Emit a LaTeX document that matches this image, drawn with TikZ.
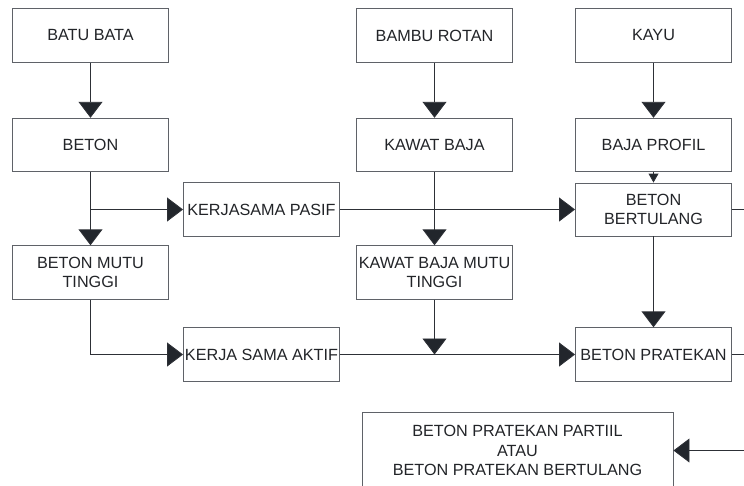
\documentclass[tikz,border=0pt]{standalone}
\usepackage{fontspec}
\setmainfont{Liberation Sans}
\usetikzlibrary{arrows.meta,positioning,calc}
\definecolor{boxline}{RGB}{95,98,104}
\definecolor{wire}{RGB}{45,48,54}
\definecolor{tipc}{RGB}{34,38,44}
\definecolor{txt}{RGB}{34,36,40}

\begin{document}
\begin{tikzpicture}[x=1pt,y=-1pt,
  every node/.style={font=\fontsize{16.2}{19.5}\selectfont,text=txt},
  kotak/.style={draw=boxline,line width=0.9pt,minimum width=156pt,minimum height=53.5pt,inner sep=0pt,align=center},
  lebar/.style={kotak,minimum width=311pt,minimum height=76pt},
  arr/.style={wire,line width=0.9pt,-{Triangle[length=16pt,width=24pt,fill=tipc]}},
  arrk/.style={wire,line width=0.9pt,-{Triangle[length=9pt,width=10pt,fill=tipc]}},
  ln/.style={wire,line width=0.9pt}]
  \useasboundingbox (0,0) rectangle (744,485);
  \clip (0,0) rectangle (744,485);

  % kolom kiri
  \node[kotak] (bata)   at (90.5,35.5)  {BATU BATA};
  \node[kotak] (beton)  at (90.5,145)   {BETON};
  \node[kotak] (bmt)    at (90.5,272.5) {BETON MUTU\\TINGGI};
  % kolom tengah
  \node[kotak] (pasif)  at (261.5,209.5) {KERJASAMA PASIF};
  \node[kotak] (aktif)  at (261.5,354.5) {KERJA SAMA AKTIF};
  \node[kotak] (bambu)  at (434.5,35.5)  {BAMBU ROTAN};
  \node[kotak] (kawat)  at (434.5,145)   {KAWAT BAJA};
  \node[kotak] (kbmt)   at (434.5,272.5) {KAWAT BAJA MUTU\\TINGGI};
  % kolom kanan
  \node[kotak] (kayu)      at (653.5,35.5)  {KAYU};
  \node[kotak] (profil)    at (653.5,145)   {BAJA PROFIL};
  \node[kotak,minimum height=53pt] (bertulang) at (653.5,209.5) {BETON\\BERTULANG};
  \node[kotak] (pratekan)  at (653.5,354.5) {BETON PRATEKAN};
  \node[lebar] (partiil)   at (517.5,450.5) {BETON PRATEKAN PARTIIL\\ATAU\\BETON PRATEKAN BERTULANG};

  \coordinate (luar) at (770,300);

  \draw[arr] (bata) -- (beton);
  \draw[arr] (beton) -- (bmt);
  \draw[arr] (beton.south |- pasif.west) -- (pasif.west);
  \draw[arr] (pasif.east) -- (bertulang.west);
  \draw[arr] (bmt.south) |- (aktif.west);
  \draw[arr] (aktif.east) -- (pratekan.west);

  \draw[arr] (bambu) -- (kawat);
  \draw[arr] (kawat) -- (kbmt);
  \draw[arr] (kbmt.south) -- (kbmt.south |- aktif.east);

  \draw[arr] (kayu) -- (profil);
  \draw[arrk] (profil) -- (bertulang);
  \draw[arr] (bertulang) -- (pratekan);

  % keluar ke kanan
  \draw[ln] (bertulang.east) -| (luar);
  \draw[ln] (pratekan.east) -| (luar);
  \draw[arr] (luar) |- (partiil.east);
\end{tikzpicture}
\end{document}
